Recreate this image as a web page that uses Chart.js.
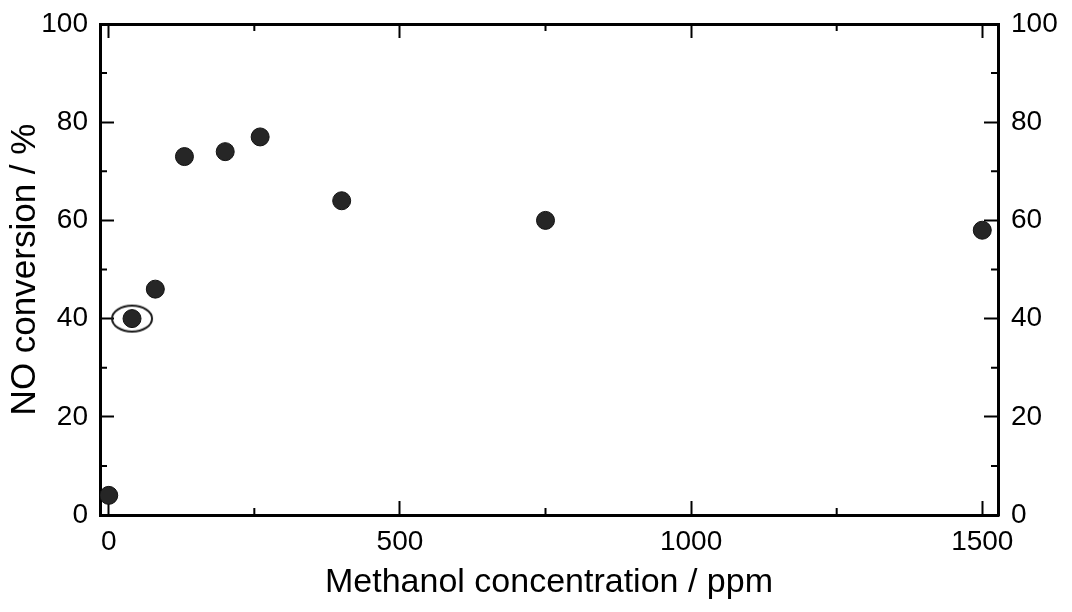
<!DOCTYPE html>
<html>
<head>
<meta charset="utf-8">
<title>NO conversion vs methanol concentration</title>
<script src="https://cdn.jsdelivr.net/npm/chart.js@4.4.1/dist/chart.umd.min.js"></script>
<style>
  html, body { margin: 0; padding: 0; background: #fff; }
  #wrap { width: 1072px; height: 612px; }
</style>
</head>
<body>
<div id="wrap"><canvas id="myChart" width="1072" height="612"></canvas></div>
<script>
// Data
const methanolPpm = [0, 40, 80, 130, 200, 260, 400, 750, 1500];
const noConversion = [4, 40, 46, 73, 74, 77, 64, 60, 58];

// the one point that is circled in the figure
const circledPpm = [40];
const circledConversion = [40];

// tick values
const xTickValues = [0, 500, 1000, 1500];
const xMinorValues = [250, 750, 1250];
const yMinorValues = [10, 30, 50, 70, 90];

const FONT = "'Liberation Sans', Arial, sans-serif";

// open ellipse used as point style for the circled point
function makeEllipse() {
    const c = document.createElement('canvas');
    c.width = 44;
    c.height = 30;
    const g = c.getContext('2d');
    g.strokeStyle = '#1a1a1a';
    g.lineWidth = 2;
    g.beginPath();
    g.ellipse(22, 15, 20, 13, 0, 0, Math.PI * 2);
    g.stroke();
    return c;
}

// minor tick marks, drawn inward like the major ones
const minorTicks = {
    id: 'minorTicks',
    afterDraw(chart) {
        const ctx = chart.ctx;
        const area = chart.chartArea;
        const len = 7;
        ctx.save();
        ctx.strokeStyle = '#000';
        ctx.lineWidth = 2;
        ctx.beginPath();
        xMinorValues.forEach(v => {
            const px = chart.scales.x.getPixelForValue(v);
            ctx.moveTo(px, area.bottom);
            ctx.lineTo(px, area.bottom - len);
            ctx.moveTo(px, area.top);
            ctx.lineTo(px, area.top + len);
        });
        yMinorValues.forEach(v => {
            const py = chart.scales.y.getPixelForValue(v);
            ctx.moveTo(area.left, py);
            ctx.lineTo(area.left + len, py);
            ctx.moveTo(area.right, py);
            ctx.lineTo(area.right - len, py);
        });
        ctx.stroke();
        ctx.restore();
    }
};

function setXTicks(scale) {
    scale.ticks = xTickValues.map(v => ({ value: v }));
}

// fixed axis sizes, and no extra padding for overhanging labels
function fitHeight(h) {
    return s => { s.height = h; s.paddingLeft = 0; s.paddingRight = 0; };
}
function fitWidth(w) {
    return s => { s.width = w; s.paddingTop = 0; s.paddingBottom = 0; };
}

const axisBorder = { display: true, color: '#000', width: 3 };
const gridStyle = {
    drawOnChartArea: false,
    drawTicks: true,
    tickLength: -14,
    tickWidth: 2,
    tickColor: '#000'
};
const tickFont = { family: FONT, size: 28 };
const plainLabel = v => String(v);

const ctx = document.getElementById('myChart').getContext('2d');
new Chart(ctx, {
    type: 'scatter',
    data: {
        datasets: [{
            label: 'NO conversion',
            data: methanolPpm.map((x, i) => ({ x: x, y: noConversion[i] })),
            pointRadius: 9,
            pointBackgroundColor: '#262626',
            pointBorderColor: '#111',
            pointBorderWidth: 1,
            order: 1
        }, {
            label: 'circled',
            data: circledPpm.map((x, i) => ({ x: x, y: circledConversion[i] })),
            pointStyle: makeEllipse(),
            pointRadius: 12,
            order: 2
        }]
    },
    options: {
        responsive: false,
        animation: false,
        devicePixelRatio: 1,
        layout: { padding: 0 },
        plugins: {
            legend: { display: false },
            tooltip: { enabled: false }
        },
        scales: {
            x: {
                type: 'linear',
                position: 'bottom',
                min: -15,
                max: 1527,
                afterBuildTicks: setXTicks,
                afterFit: fitHeight(97),
                border: axisBorder,
                grid: gridStyle,
                ticks: { font: tickFont, color: '#000', padding: 24, maxRotation: 0, autoSkip: false, callback: plainLabel },
                title: {
                    display: true,
                    text: 'Methanol concentration / ppm',
                    font: { family: FONT, size: 34 },
                    color: '#000',
                    padding: { top: 0, bottom: 9 }
                }
            },
            x2: {
                type: 'linear',
                position: 'top',
                min: -15,
                max: 1527,
                afterBuildTicks: setXTicks,
                afterFit: fitHeight(24),
                border: axisBorder,
                grid: gridStyle,
                ticks: { display: false }
            },
            y: {
                type: 'linear',
                position: 'left',
                min: 0,
                max: 100,
                afterFit: fitWidth(100),
                border: axisBorder,
                grid: gridStyle,
                ticks: { stepSize: 20, font: tickFont, color: '#000', padding: 26, callback: plainLabel },
                title: {
                    display: true,
                    text: 'NO conversion / %',
                    font: { family: FONT, size: 35 },
                    color: '#000',
                    padding: { top: 4, bottom: 0 }
                }
            },
            y2: {
                type: 'linear',
                position: 'right',
                min: 0,
                max: 100,
                afterFit: fitWidth(74),
                border: axisBorder,
                grid: gridStyle,
                ticks: { stepSize: 20, font: tickFont, color: '#000', padding: 27, callback: plainLabel }
            }
        }
    },
    plugins: [minorTicks]
});
</script>
</body>
</html>
